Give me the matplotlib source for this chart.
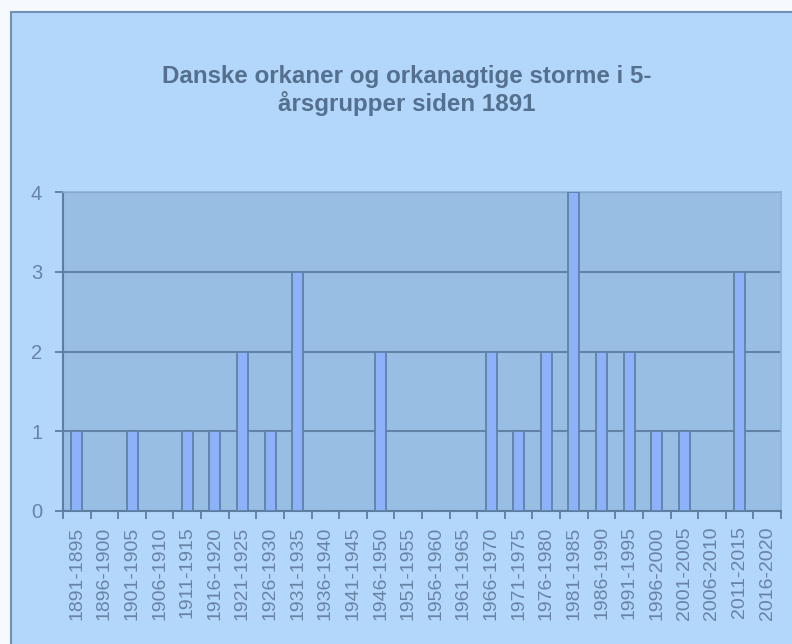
import numpy as np
import matplotlib
matplotlib.use('Agg')
import matplotlib.pyplot as plt
from matplotlib.patches import Rectangle

#==============================================================================
# Data
#==============================================================================
periods = ['1891-1895', '1896-1900', '1901-1905', '1906-1910', '1911-1915',
           '1916-1920', '1921-1925', '1926-1930', '1931-1935', '1936-1940',
           '1941-1945', '1946-1950', '1951-1955', '1956-1960', '1961-1965',
           '1966-1970', '1971-1975', '1976-1980', '1981-1985', '1986-1990',
           '1991-1995', '1996-2000', '2001-2005', '2006-2010', '2011-2015',
           '2016-2020']
storms = [1, 0, 1, 0, 1, 1, 2, 1, 3, 0, 0, 2, 0, 0, 0, 2, 1, 2, 4, 2, 2, 1, 1, 0, 3, 0]
yticks = [0, 1, 2, 3, 4]
title = 'Danske orkaner og orkanagtige storme i 5-\nårsgrupper siden 1891'

#==============================================================================
# Plot
#==============================================================================
plt.rcParams['font.family'] = ['Liberation Sans', 'DejaVu Sans']
W, H = 792, 644
fig = plt.figure(figsize=(W / 100, H / 100), dpi=100)
fig.patch.set_facecolor('#F6FAFF')

# chart frame
frame = Rectangle((11 / W, -0.01), 1.0, (H - 12) / H + 0.01,
                  transform=fig.transFigure, facecolor='#B2D7FB',
                  edgecolor='#6E92B8', linewidth=1.5, zorder=-10)
fig.add_artist(frame)

ax = fig.add_axes([63 / W, (H - 511) / H, (781 - 63) / W, (511 - 192) / H])
ax.set_facecolor('#98BEE4')

x = np.arange(len(periods))
ax.bar(x, storms, width=0.4, color='#8DB2FA', edgecolor='#5E82A8',
       linewidth=1.3, zorder=3)

ax.set_xlim(-0.5, len(periods) - 0.5)
ax.set_ylim(0, 4)
ax.set_yticks(yticks)
ax.yaxis.grid(True, color='#6282A6', linewidth=1.5, zorder=1)
ax.set_axisbelow(True)

ax.set_xticks(x)
ax.set_xticklabels(periods, rotation=90)
ax.set_xticks(np.arange(len(periods) + 1) - 0.5, minor=True)
ax.tick_params(axis='x', which='major', length=0, pad=11,
               labelsize=14, labelcolor='#6883A4')
ax.tick_params(axis='x', which='minor', length=6, width=1.3, color='#5E7E9F')
ax.tick_params(axis='y', length=6, width=1.3, color='#5E7E9F', pad=9,
               labelsize=14.5, labelcolor='#6883A4')

for s in ['left', 'bottom']:
    ax.spines[s].set_color('#5E7E9F')
    ax.spines[s].set_linewidth(1.5)
for s in ['top', 'right']:
    ax.spines[s].set_color('#8DB2D6')
    ax.spines[s].set_linewidth(1.2)

fig.text(407 / W, 1 - 91 / H, title, ha='center', va='center',
         fontsize=17.4, fontweight='bold', color='#556F8E', linespacing=1.15)

plt.savefig('out.png', dpi=100, facecolor=fig.get_facecolor())
